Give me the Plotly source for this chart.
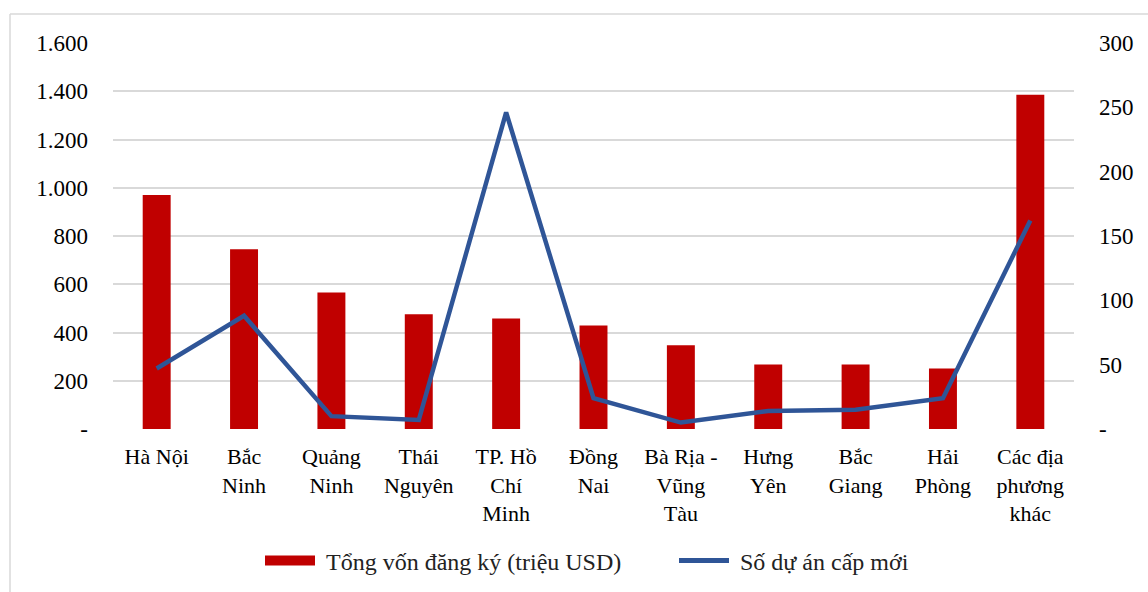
import plotly.graph_objects as go

categories = ["Hà Nội", "Bắc<br>Ninh", "Quảng<br>Ninh", "Thái<br>Nguyên", "TP. Hồ<br>Chí<br>Minh",
              "Đồng<br>Nai", "Bà Rịa -<br>Vũng<br>Tàu", "Hưng<br>Yên", "Bắc<br>Giang", "Hải<br>Phòng",
              "Các địa<br>phương<br>khác"]
von_dang_ky = [970, 745, 566, 476, 458, 429, 347, 267, 267, 251, 1385]
so_du_an = [47, 88, 10, 7, 246, 24, 5, 14, 15, 24, 162]

left_ticks = [0, 200, 400, 600, 800, 1000, 1200, 1400, 1600]
left_text = ["-", "200", "400", "600", "800", "1.000", "1.200", "1.400", "1.600"]
right_ticks = [0, 50, 100, 150, 200, 250, 300]
right_text = ["-", "50", "100", "150", "200", "250", "300"]

bar_name = "Tổng vốn đăng ký (triệu USD)"
line_name = "Số dự án cấp mới"

FONT = "Liberation Serif"
FS = 22
W, H = 1148, 592
L, R, T, B = 113, 74, 43, 163
pw, ph = W - L - R, H - T - B

fig = go.Figure()
fig.add_trace(go.Bar(x=categories, y=von_dang_ky, name=bar_name, showlegend=False,
                     marker=dict(color="#C00000", line=dict(width=0)), yaxis="y"))
fig.add_trace(go.Scatter(x=categories, y=so_du_an, name=line_name, mode="lines", showlegend=False,
                         line=dict(color="#2F5597", width=4.5), yaxis="y2"))
# legend entries
fig.add_trace(go.Scatter(x=[None], y=[None], name="&nbsp;" + bar_name, mode="lines",
                         line=dict(color="#C00000", width=14), yaxis="y"))
fig.add_trace(go.Scatter(x=[None], y=[None], name="&nbsp;" + line_name, mode="lines",
                         line=dict(color="#2F5597", width=5), yaxis="y2"))

def px_x(p):
    return (p - L) / pw

def px_y(p):
    return (H - B - p) / ph

border = "#D9D9D9"
fig.add_shape(type="line", xref="paper", yref="paper", x0=px_x(10), x1=px_x(W + 5), y0=px_y(14), y1=px_y(14),
              line=dict(color=border, width=1.5))
fig.add_shape(type="line", xref="paper", yref="paper", x0=px_x(10), x1=px_x(10), y0=px_y(14), y1=px_y(H + 5),
              line=dict(color=border, width=1.5))

fig.update_layout(
    width=W, height=H,
    margin=dict(l=L, r=R, t=T, b=B, autoexpand=False),
    paper_bgcolor="white", plot_bgcolor="white",
    font=dict(family=FONT, size=FS, color="black"),
    bargap=0.68,
    showlegend=True,
    legend=dict(orientation="h", x=px_x(260), xanchor="left", y=px_y(561), yanchor="middle",
                font=dict(family=FONT, size=24, color="#222"), itemwidth=50,
                entrywidth=349, entrywidthmode="pixels", traceorder="normal"),
    xaxis=dict(showgrid=False, showline=False, ticks="", tickfont=dict(family=FONT, size=FS),
               ticklabelstandoff=12, tickangle=0),
    yaxis=dict(range=[0, 1600], tickvals=left_ticks, ticktext=left_text, showgrid=True,
               gridcolor="#D9D9D9", gridwidth=1.5, zeroline=False, showline=False, ticks="",
               ticklabelstandoff=24, tickfont=dict(family=FONT, size=23)),
    yaxis2=dict(range=[0, 300], tickvals=right_ticks, ticktext=right_text, overlaying="y",
                side="right", showgrid=False, zeroline=False, showline=False, ticks="",
                ticklabelstandoff=24, tickfont=dict(family=FONT, size=23)),
)

fig.write_html("out.html", config={"displayModeBar": False},
               post_script="document.body.style.margin='0';document.body.style.overflow='hidden';")
